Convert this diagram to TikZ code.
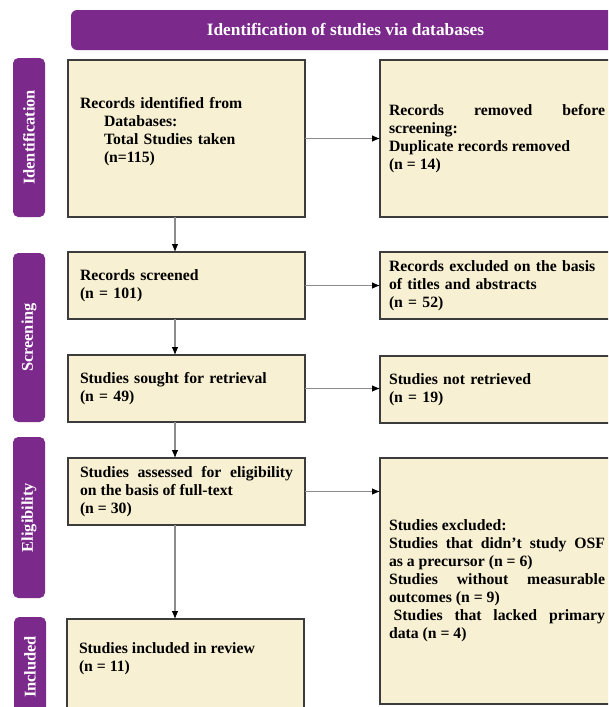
\documentclass[tikz,border=0pt]{standalone}
\usepackage{fontspec}
\setmainfont{Liberation Serif}
\usetikzlibrary{arrows.meta}
\definecolor{c7b2a8c}{RGB}{123,42,140}
\definecolor{cf8f0d2}{RGB}{248,240,210}
\definecolor{c3c3c3c}{RGB}{60,60,60}
\definecolor{c8c8c8c}{RGB}{140,140,140}

\begin{document}
\begin{tikzpicture}[x=0.75pt,y=-0.75pt,inner sep=0pt,outer sep=0pt,
  box/.style={draw=c3c3c3c,fill=cf8f0d2,line width=1.2pt,inner xsep=9pt,inner ysep=3pt,
    font=\fontsize{11.8}{13.5}\selectfont\bfseries},
  leftbox/.style={box,text width=159.75pt,minimum height=50.25pt,align=left},
  rightbox/.style={box,inner xsep=6.75pt,text width=162pt,minimum height=50.25pt,align=left},
  phase/.style={fill=c7b2a8c,rounded corners=4pt,rotate=90,minimum height=24pt,text=white,
    font=\fontsize{12.3}{14}\selectfont\bfseries},
  flow/.style={draw=c8c8c8c,line width=0.8pt,-{Latex[black,length=6pt,width=5pt]}}]
  \useasboundingbox (0,0) rectangle (608,707);
  \path[fill=white] (0,0) rectangle (608,707);
  \clip (0,0) rectangle (608,707);
  \path (345.5,30) node[fill=c7b2a8c,rounded corners=4.5pt,minimum width=411.75pt,minimum height=30pt,
    text=white,font=\fontsize{13}{15}\selectfont\bfseries] (header) {Identification of studies via databases};
  \path (29,137.5) node[phase,minimum width=119.25pt] (identification) {Identification};
  \path (29,337.5) node[phase,minimum width=126.75pt] (screening) {Screening};
  \path (29,517.5) node[phase,minimum width=120.75pt] (eligibility) {Eligibility};
  \path (30,667) node[phase,minimum width=75pt] (inclusion) {Included};
  \path (186.5,138.5) node[leftbox,minimum height=117.75pt] (identified)
    {Records identified from\\\hspace*{18pt}Databases:\\\hspace*{18pt}Total Studies taken\\\hspace*{18pt}(n=115)\\[-1pt]\mbox{}};
  \path (497,138.5) node[rightbox,align=justify,minimum height=117.75pt] (removed)
    {Records removed before\linebreak screening:\\Duplicate records removed\\(n = 14)};
  \path (186.5,285.5) node[leftbox] (screened) {Records screened\\(n = 101)};
  \path (497,285.5) node[rightbox] (excludedta) {Records excluded on the basis\\of titles and abstracts\\(n = 52)};
  \path (186.5,388.5) node[leftbox] (sought) {Studies sought for retrieval\\(n = 49)};
  \path (497,389.5) node[rightbox] (notretrieved) {Studies not retrieved\\(n = 19)};
  \path (186.5,491.5) node[leftbox,align=justify] (assessed)
    {Studies assessed for eligibility\linebreak on the basis of full-text\\(n = 30)};
  \path (497,581) node[rightbox,align=justify,minimum height=184.5pt] (excluded)
    {Studies excluded:\\Studies that didn't study OSF\linebreak as a precursor (n = 6)\\Studies without measurable\linebreak
     outcomes (n = 9)\\\hspace*{.3em}Studies that lacked primary\linebreak data (n = 4)};
  \path (185.5,679.5) node[leftbox,minimum height=90.75pt] (included) {};
  \path (79,659) node[anchor=west,align=left,font=\fontsize{11.8}{13.5}\selectfont\bfseries] (includedtext)
    {Studies included in review\\(n = 11)};
  \coordinate (stem) at (175,0);
  \path[flow] (identified.south -| stem) -- (screened.north -| stem);
  \path[flow] (screened.south -| stem) -- (sought.north -| stem);
  \path[flow] (sought.south -| stem) -- (assessed.north -| stem);
  \path[flow] (assessed.south -| stem) -- (included.north -| stem);
  \path[flow] (identified.east) -- (identified.east -| removed.west);
  \path[flow] (screened.east) -- (excludedta.west);
  \path[flow] (sought.east) -- (sought.east -| notretrieved.west);
  \path[flow] (assessed.east) -- (assessed.east -| excluded.west);
\end{tikzpicture}
\end{document}
